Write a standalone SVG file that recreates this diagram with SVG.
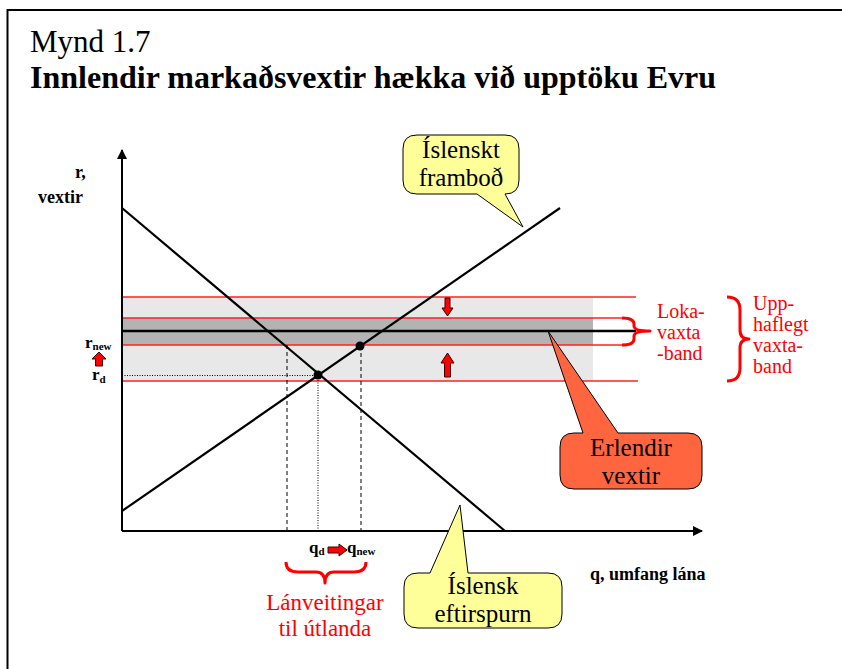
<svg xmlns="http://www.w3.org/2000/svg" width="842" height="669" viewBox="0 0 842 669">
<style>
text{font-family:"Liberation Serif","Times New Roman",serif;}
.lbl{font-weight:bold;fill:#000;}
.red{fill:#FF0000;}
.call{font-size:25px;fill:#000;text-anchor:middle;}
.rl{stroke:#FF2020;stroke-width:1.5;fill:none;}
.brace{stroke:#FF0000;stroke-width:3;fill:none;stroke-linejoin:round;}
.ax{stroke:#000;stroke-width:2;fill:none;}
.curve{stroke:#000;stroke-width:2.2;fill:none;}
.dash{stroke:#000;stroke-width:1;stroke-dasharray:4,3;fill:none;}
.dot{stroke:#000;stroke-width:1;stroke-dasharray:1,1.5;fill:none;}
.arr{fill:#FF0000;stroke:#400000;stroke-width:1;}
.bubble{stroke:#000;stroke-width:1;}
</style>
<defs>
<marker id="ah" markerWidth="10" markerHeight="10" refX="9" refY="5" orient="auto" markerUnits="userSpaceOnUse">
<path d="M0,0 L10,5 L0,10 Z" fill="#000"/>
</marker>
</defs>
<rect width="842" height="669" fill="#fff"/>
<g id="frame">
<path d="M7.5,669 V10 H842" stroke="#000" stroke-width="2" fill="none"/>
</g>
<g id="title">
<text x="30" y="52" font-size="31">Mynd 1.7</text>
<text x="30" y="88" font-size="32" font-weight="bold">Innlendir markaðsvextir hækka við upptöku Evru</text>
</g>
<g id="bands">
<rect x="122" y="297" width="471" height="84" fill="#E8E8E8"/>
<rect x="122" y="318" width="471" height="27" fill="#B3B3B3"/>
<line class="rl" x1="122" y1="297" x2="636" y2="297"/>
<line class="rl" x1="122" y1="318" x2="626" y2="318"/>
<line class="rl" x1="122" y1="345" x2="626" y2="345"/>
<line class="rl" x1="122" y1="381" x2="638" y2="381"/>
<line x1="122" y1="331" x2="636" y2="331" stroke="#000" stroke-width="2.5"/>
</g>
<g id="connectors">
<line class="ax" x1="122" y1="531" x2="122" y2="150" marker-end="url(#ah)"/>
<line class="ax" x1="122" y1="531" x2="702" y2="531" marker-end="url(#ah)"/>
<line class="curve" x1="122" y1="208" x2="505" y2="531"/>
<line class="curve" x1="122" y1="511" x2="560" y2="208"/>
<line class="dash" x1="287" y1="345" x2="287" y2="531"/>
<line class="dash" x1="361" y1="346" x2="361" y2="531"/>
<line class="dot" x1="122" y1="375.5" x2="318" y2="375.5"/>
<line class="dot" x1="318" y1="375" x2="318" y2="531"/>
</g>
<g id="points">
<circle cx="318" cy="375" r="4.5" fill="#000"/>
<circle cx="360" cy="346" r="4.5" fill="#000"/>
</g>
<g id="band-arrows">
<path class="arr" d="M445,298 H450 V308 H453 L447.5,316 L442,308 H445 Z"/>
<path class="arr" d="M447.5,353 L454,363 H450.5 V377 H444.5 V363 H441 Z"/>
<path class="arr" d="M99,352 L106,359 H102.5 V366 H95.5 V359 H92 Z" fill="#FF3300"/>
<path class="arr" d="M328,547 H339 V544 L347,550 L339,556 V553 H328 Z"/>
</g>
<g id="axis-labels">
<text class="lbl" x="75" y="178" font-size="18">r,</text>
<text class="lbl" x="38" y="203" font-size="18">vextir</text>
<text class="lbl" x="85" y="348" font-size="17">r<tspan font-size="11" dy="2">new</tspan></text>
<text class="lbl" x="92" y="380" font-size="17">r<tspan font-size="11" dy="3">d</tspan></text>
<text class="lbl" x="309" y="553" font-size="17">q<tspan font-size="11" dy="2">d</tspan></text>
<text class="lbl" x="347" y="553" font-size="17">q<tspan font-size="11" dy="2">new</tspan></text>
<text class="lbl" x="590" y="580" font-size="18">q, umfang lána</text>
</g>
<g id="braces">
<path class="brace" d="M622,318 Q634,318 634,324 V326 Q634,331 650,331 Q634,331 634,336 V339 Q634,345 622,345"/>
<path class="brace" d="M727,297 Q740,297 740,310 V330 Q740,339 749,339 Q740,339 740,348 V368 Q740,381 727,381"/>
<path class="brace" d="M286,562 Q286,572 298,572 H316 Q325,572 325,583 Q325,572 334,572 H354 Q366,572 366,562"/>
</g>
<g id="band-labels">
<text class="red" font-size="20" x="657" y="318">Loka-</text>
<text class="red" font-size="20" x="657" y="339">vaxta</text>
<text class="red" font-size="20" x="657" y="360">-band</text>
<text class="red" font-size="20" x="753" y="310">Upp-</text>
<text class="red" font-size="20" x="753" y="331">haflegt</text>
<text class="red" font-size="20" x="753" y="352">vaxta-</text>
<text class="red" font-size="20" x="753" y="373">band</text>
<text class="red" font-size="23" text-anchor="middle" x="325" y="610">Lánveitingar</text>
<text class="red" font-size="23" text-anchor="middle" x="325" y="636">til útlanda</text>
</g>
<g id="callout-supply">
<path class="bubble" fill="#FFFF99" d="M417,135 H505 Q519,135 519,149 V180 Q519,194 505,194 L523,227 L477,194 H417 Q403,194 403,180 V149 Q403,135 417,135 Z"/>
<text class="call" x="461" y="158">Íslenskt</text>
<text class="call" x="461" y="186">framboð</text>
</g>
<g id="callout-demand">
<path class="bubble" fill="#FFFF99" d="M418,573 H430 L460,505 L468,573 H548 Q562,573 562,587 V614 Q562,628 548,628 H418 Q404,628 404,614 V587 Q404,573 418,573 Z"/>
<text class="call" x="483" y="594">Íslensk</text>
<text class="call" x="483" y="622">eftirspurn</text>
</g>
<g id="callout-foreign">
<path class="bubble" fill="#FF6640" d="M574,433 H583 L548,331 L618,433 H688 Q702,433 702,447 V475 Q702,489 688,489 H574 Q560,489 560,475 V447 Q560,433 574,433 Z"/>
<text class="call" x="631" y="456">Erlendir</text>
<text class="call" x="631" y="484">vextir</text>
</g>
</svg>
